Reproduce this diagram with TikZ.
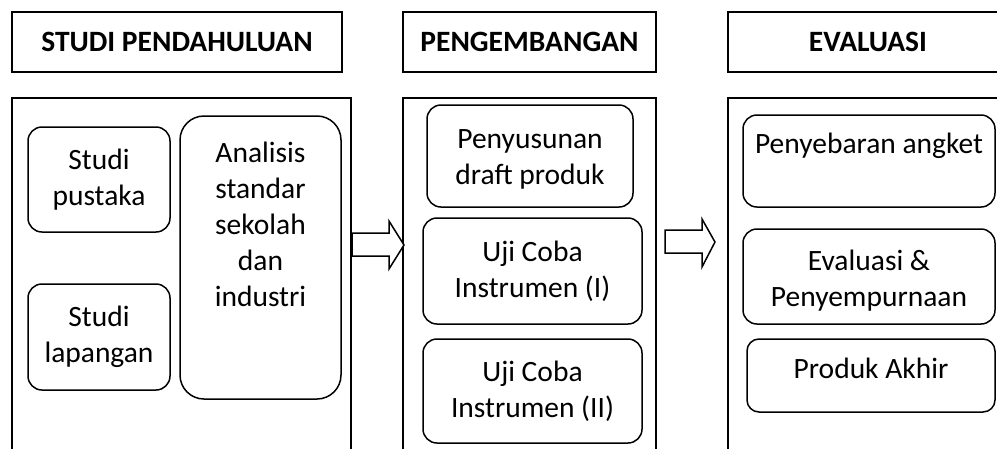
\documentclass[tikz,border=0pt]{standalone}
\usepackage{fontspec}
\setmainfont{Carlito}
\begin{document}
\begin{tikzpicture}[x=1pt,y=-1pt,
  every node/.style={inner sep=0pt, outer sep=0pt},
  txtfont/.style={font=\fontsize{29.5}{36}\selectfont},
  hdr/.style={draw, line width=1.6pt, font=\fontsize{29.5}{36}\selectfont\bfseries},
  frame/.style={draw, line width=1.6pt},
  rbox/.style={draw, line width=1.5pt, rounded corners=14pt, align=center, txtfont},
  inlabel/.style={align=center, txtfont},
  blockarrow/.style={draw, line width=1.5pt, fill=white, line join=miter}
]
\useasboundingbox (0,0) rectangle (997,448);
\clip (0,0) rectangle (997,448);

% headers
\node[hdr, minimum width=330pt, minimum height=60pt] (h1) at (177,42) {STUDI PENDAHULUAN};
\node[hdr, minimum width=253pt, minimum height=60pt] (h2) at (529.5,42) {PENGEMBANGAN};
\node[hdr, minimum width=280pt, minimum height=60pt] (h3) at (868,42) {EVALUASI};

% frames (open at the bottom / right edge of the picture)
\node[frame, minimum width=339pt, minimum height=372pt] (f1) at (181.5,284) {};
\node[frame, minimum width=253pt, minimum height=372pt] (f2) at (529.5,284) {};
\node[frame, minimum width=280pt, minimum height=372pt] (f3) at (868,284) {};

% column 1
\node[rbox, minimum width=142pt, minimum height=105pt] (sp) at (99,179.5) {Studi\\pustaka};
\node[rbox, minimum width=142pt, minimum height=106pt] (sl) at (99,337) {Studi\\lapangan};
\node[rbox, rounded corners=24pt, minimum width=161pt, minimum height=283pt,
      label={[inlabel, yshift=33pt]center:{Analisis\\standar\\sekolah\\dan\\industri}}] (an) at (260.5,257.5) {};

% column 2
\node[rbox, minimum width=206pt, minimum height=102pt,
      label={[inlabel, yshift=-3pt]center:{Penyusunan\\draft produk}}] (pd) at (530,156) {};
\node[rbox, minimum width=219pt, minimum height=106pt] (u1) at (532.5,271) {Uji Coba\\Instrumen (I)};
\node[rbox, minimum width=219pt, minimum height=104pt] (u2) at (532.5,391) {Uji Coba\\Instrumen (II)};

% column 3
\node[rbox, minimum width=252pt, minimum height=92pt,
      label={[inlabel, yshift=15pt]center:{Penyebaran angket}}] (pa) at (869,161) {};
\node[rbox, minimum width=252pt, minimum height=95pt,
      label={[inlabel, yshift=-4.5pt]center:{Evaluasi \&\\Penyempurnaan}}] (ev) at (869,276.5) {};
\node[rbox, rounded corners=12pt, minimum width=248pt, minimum height=73pt,
      label={[inlabel, yshift=7pt]center:{Produk Akhir}}] (pk) at (871,375.5) {};

% block arrows between the frames
\draw[blockarrow] (352,233) -- (389,233) -- (389,221) -- (404,245) -- (389,269) -- (389,256) -- (352,256) -- cycle;
\draw[blockarrow] (665,230) -- (702,230) -- (702,219) -- (715,242) -- (702,267) -- (702,253) -- (665,253) -- cycle;
\end{tikzpicture}
\end{document}
